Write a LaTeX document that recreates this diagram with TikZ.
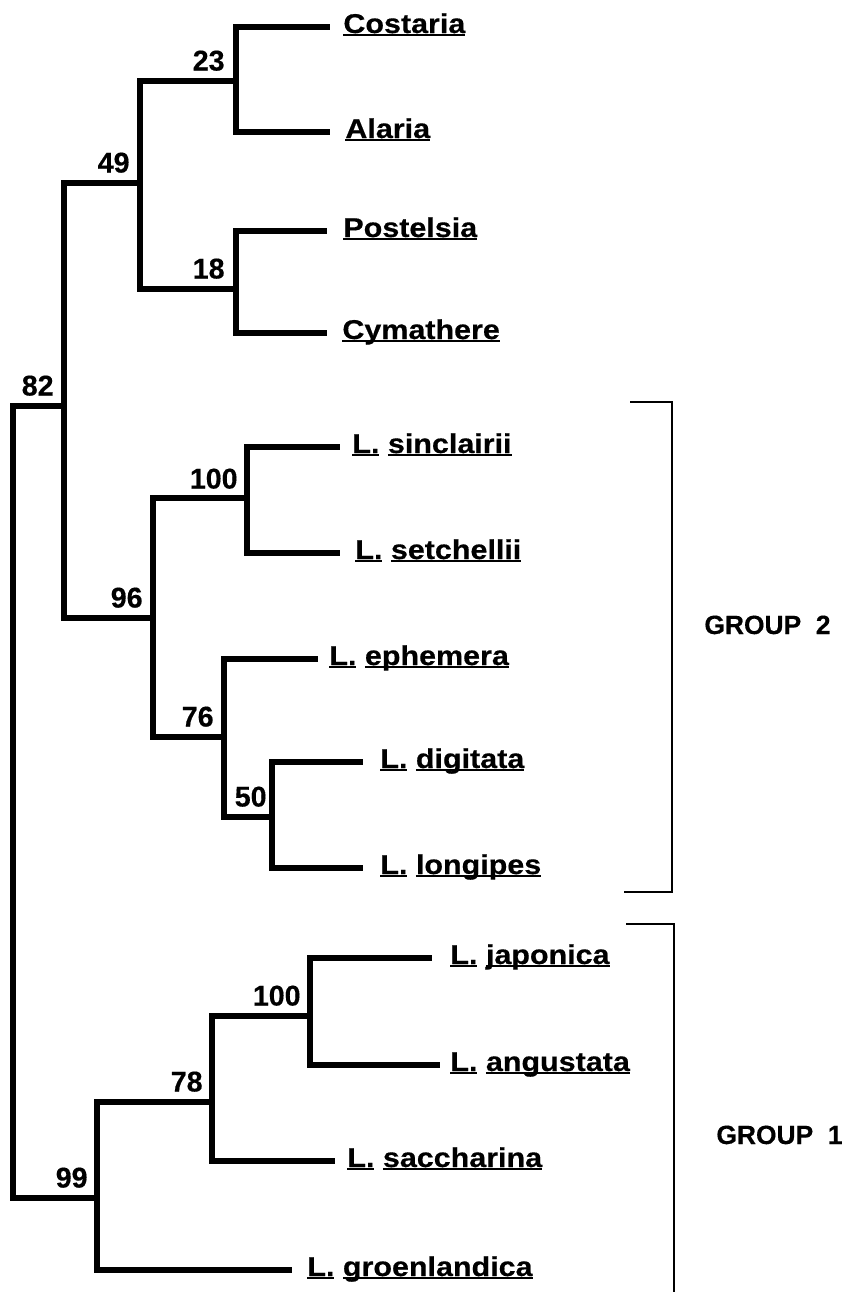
\documentclass[tikz,border=0pt]{standalone}
\usepackage{fontspec}
\setmainfont{Liberation Sans}[BoldFeatures={FakeBold=0.4}]
\newfontfamily\leaffont{Liberation Sans}[FakeStretch=1.12,BoldFeatures={FakeBold=0.5}]
\newsavebox\ulbox
\newcommand\ulx[1]{\sbox\ulbox{#1}\rlap{\rule[-1.6pt]{\wd\ulbox}{1pt}}\usebox\ulbox}
\newcommand\taxon[2]{\ulx{#1}\ \ulx{#2}}
\begin{document}
\begin{tikzpicture}[x=0.5pt,y=-0.5pt,
  br/.style={line width=3.25pt,line cap=rect,line join=miter},
  brk/.style={line width=1pt,line cap=butt,line join=miter},
  lbl/.style={inner sep=0pt,anchor=base west,font=\leaffont\bfseries\fontsize{13.6pt}{16pt}\selectfont},
  num/.style={inner sep=0pt,anchor=base east,font=\bfseries\fontsize{14.3pt}{16pt}\selectfont},
  grp/.style={inner sep=0pt,anchor=base west,font=\bfseries\fontsize{13.2pt}{16pt}\selectfont}]
\useasboundingbox (0,0) rectangle (851,1292);
% internal nodes (junctions)
\coordinate (root)  at (13,802);
\coordinate (n82)   at (64,406);
\coordinate (n49)   at (140,183);
\coordinate (n23)   at (236,81);
\coordinate (n18)   at (236,289);
\coordinate (n96)   at (153,618);
\coordinate (n100a) at (247,498);
\coordinate (n76)   at (224,737);
\coordinate (n50)   at (272,817);
\coordinate (n99)   at (97,1198);
\coordinate (n78)   at (212,1102);
\coordinate (n100b) at (310,1016);
% tip ends
\coordinate (eCostaria)  at (327,27);
\coordinate (eAlaria)    at (327,132);
\coordinate (ePostelsia) at (324,231);
\coordinate (eCymathere) at (324,333);
\coordinate (eSinclairii) at (337,447);
\coordinate (eSetchellii) at (337,553);
\coordinate (eEphemera)  at (315,659);
\coordinate (eDigitata)  at (360,762);
\coordinate (eLongipes)  at (360,868);
\coordinate (eJaponica)  at (429,958);
\coordinate (eAngustata) at (437,1065);
\coordinate (eSaccharina) at (332,1161);
\coordinate (eGroenlandica) at (289,1270);
% branches
\draw[br] (root) |- (n82);
\draw[br] (root) |- (n99);
\draw[br] (n82) |- (n49);
\draw[br] (n82) |- (n96);
\draw[br] (n49) |- (n23);
\draw[br] (n49) |- (n18);
\draw[br] (n23) |- (eCostaria);
\draw[br] (n23) |- (eAlaria);
\draw[br] (n18) |- (ePostelsia);
\draw[br] (n18) |- (eCymathere);
\draw[br] (n96) |- (n100a);
\draw[br] (n96) |- (n76);
\draw[br] (n100a) |- (eSinclairii);
\draw[br] (n100a) |- (eSetchellii);
\draw[br] (n76) |- (eEphemera);
\draw[br] (n76) |- (n50);
\draw[br] (n50) |- (eDigitata);
\draw[br] (n50) |- (eLongipes);
\draw[br] (n99) |- (n78);
\draw[br] (n99) |- (eGroenlandica);
\draw[br] (n78) |- (n100b);
\draw[br] (n78) |- (eSaccharina);
\draw[br] (n100b) |- (eJaponica);
\draw[br] (n100b) |- (eAngustata);
% support values
\node[num] (l82) at (54,395.5) {82};
\node[num] (l49) at (130,172.5) {49};
\node[num] (l23) at (225,70.5) {23};
\node[num] (l18) at (225,278.5) {18};
\node[num] (l96) at (143,607.5) {96};
\node[num] (l100a) at (238,488.5) {100};
\node[num] (l76) at (214,726.5) {76};
\node[num] (l50) at (267,806.5) {50};
\node[num] (l99) at (88,1187.5) {99};
\node[num] (l78) at (203,1091.5) {78};
\node[num] (l100b) at (301,1005.5) {100};
% taxa
\node[lbl] (Costaria) at (343,33) {\ulx{Costaria}};
\node[lbl] (Alaria) at (345,138) {\ulx{Alaria}};
\node[lbl] (Postelsia) at (343,237) {\ulx{Postelsia}};
\node[lbl] (Cymathere) at (342,339) {\ulx{Cymathere}};
\node[lbl] (Sinclairii) at (352,453) {\taxon{L.}{sinclairii}};
\node[lbl] (Setchellii) at (355,559) {\taxon{L.}{setchellii}};
\node[lbl] (Ephemera) at (329,665) {\taxon{L.}{ephemera}};
\node[lbl] (Digitata) at (380,768) {\taxon{L.}{digitata}};
\node[lbl] (Longipes) at (380,874) {\taxon{L.}{longipes}};
\node[lbl] (Japonica) at (450,964) {\taxon{L.}{japonica}};
\node[lbl] (Angustata) at (450,1071) {\taxon{L.}{angustata}};
\node[lbl] (Saccharina) at (347,1167) {\taxon{L.}{saccharina}};
\node[lbl] (Groenlandica) at (307,1276) {\taxon{L.}{groenlandica}};
% groups
\coordinate (g2a) at (630,402);
\coordinate (g2b) at (672,402);
\coordinate (g2c) at (672,892);
\coordinate (g2d) at (624,892);
\draw[brk] (g2a) -- (g2b) -- (g2c) -- (g2d);
\coordinate (g1a) at (626,924);
\coordinate (g1b) at (674,924);
\coordinate (g1c) at (674,1292);
\draw[brk] (g1a) -- (g1b) -- (g1c);
\node[grp] (G2) at (704,634) {GROUP\ \ 2};
\node[grp] (G1) at (716,1144) {GROUP\ \ 1};
\end{tikzpicture}
\end{document}
